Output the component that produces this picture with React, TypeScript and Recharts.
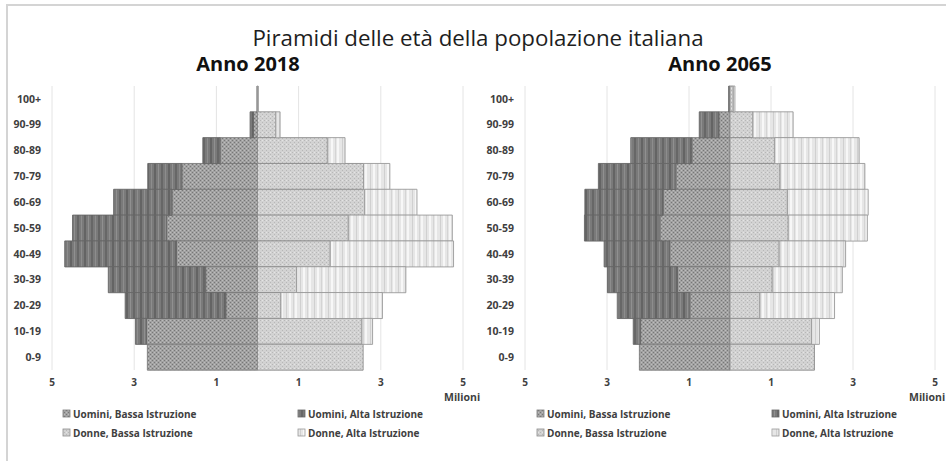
import { Bar, BarChart, CartesianGrid, XAxis, YAxis } from "recharts";

// age classes, top to bottom
const ageGroups = ["100+", "90-99", "80-89", "70-79", "60-69", "50-59", "40-49", "30-39", "20-29", "10-19", "0-9"];

// millions of people, 2018
const menLow2018 = [0.005, 0.1, 0.91, 1.84, 2.08, 2.21, 1.97, 1.26, 0.77, 2.7, 2.68];
const menHigh2018 = [0.003, 0.08, 0.42, 0.83, 1.42, 2.29, 2.72, 2.37, 2.45, 0.27, 0];
const womenLow2018 = [0.01, 0.45, 1.7, 2.58, 2.61, 2.21, 1.77, 0.95, 0.57, 2.54, 2.57];
const womenHigh2018 = [0.005, 0.1, 0.43, 0.64, 1.27, 2.53, 3.0, 2.66, 2.47, 0.26, 0];

// millions of people, 2065
const menLow2065 = [0.02, 0.27, 0.93, 1.32, 1.63, 1.71, 1.47, 1.28, 0.98, 2.18, 2.21];
const menHigh2065 = [0.01, 0.48, 1.49, 1.89, 1.91, 1.84, 1.6, 1.71, 1.77, 0.18, 0];
const womenLow2065 = [0.08, 0.56, 1.09, 1.22, 1.4, 1.42, 1.2, 1.03, 0.73, 1.99, 2.06];
const womenHigh2065 = [0.04, 0.98, 2.06, 2.07, 1.97, 1.93, 1.62, 1.71, 1.82, 0.19, 0];

const seriesKeys = ["menLow", "menHigh", "womenLow", "womenHigh"];
const seriesNames = [
  "Uomini, Bassa Istruzione",
  "Uomini, Alta Istruzione",
  "Donne, Bassa Istruzione",
  "Donne, Alta Istruzione",
];
const xTicks = [-5, -3, -1, 1, 3, 5];

const FONT = "'Open Sans', 'Noto Sans', sans-serif";
const strokes: Record<string, string> = {
  menLow: "#7a7a7a",
  menHigh: "#666666",
  womenLow: "#8c8c8c",
  womenHigh: "#9a9a9a",
};

function buildRows(menLow: number[], menHigh: number[], womenLow: number[], womenHigh: number[]) {
  return ageGroups.map((age, i) => ({
    age,
    menLow: -menLow[i],
    menHigh: -menHigh[i],
    womenLow: womenLow[i],
    womenHigh: womenHigh[i],
  }));
}

const rows2018 = buildRows(menLow2018, menHigh2018, womenLow2018, womenHigh2018);
const rows2065 = buildRows(menLow2065, menHigh2065, womenLow2065, womenHigh2065);

function patternDefs(prefix: string) {
  return (
    <defs>
      <pattern id={`${prefix}-menLow`} width={4} height={4} patternUnits="userSpaceOnUse">
        <rect width={4} height={4} fill="#a2a2a2" />
        <rect x={0} y={0} width={1} height={1} fill="#777777" />
        <rect x={2} y={2} width={1} height={1} fill="#777777" />
        <rect x={2} y={0} width={1} height={1} fill="#bdbdbd" />
        <rect x={0} y={2} width={1} height={1} fill="#bdbdbd" />
      </pattern>
      <pattern id={`${prefix}-womenLow`} width={4} height={4} patternUnits="userSpaceOnUse">
        <rect width={4} height={4} fill="#d2d2d2" />
        <rect x={0} y={0} width={1} height={1} fill="#b7b7b7" />
        <rect x={2} y={2} width={1} height={1} fill="#b7b7b7" />
        <rect x={2} y={0} width={1} height={1} fill="#e4e4e4" />
      </pattern>
      <pattern id={`${prefix}-menHigh`} width={14} height={4} patternUnits="userSpaceOnUse">
        <rect width={14} height={4} fill="#7a7a7a" />
        <rect x={0} width={2} height={4} fill="#646464" />
        <rect x={4} width={1} height={4} fill="#909090" />
        <rect x={7} width={2} height={4} fill="#676767" />
        <rect x={11} width={1} height={4} fill="#8d8d8d" />
      </pattern>
      <pattern id={`${prefix}-womenHigh`} width={14} height={4} patternUnits="userSpaceOnUse">
        <rect width={14} height={4} fill="#e6e6e6" />
        <rect x={1} width={2} height={4} fill="#f6f6f6" />
        <rect x={6} width={1} height={4} fill="#d0d0d0" />
        <rect x={9} width={2} height={4} fill="#f7f7f7" />
        <rect x={13} width={1} height={4} fill="#d4d4d4" />
      </pattern>
    </defs>
  );
}

type PyramidProps = {
  rows: ReturnType<typeof buildRows>;
  prefix: string;
  width: number;
  right: number;
};

function Pyramid({ rows, prefix, width, right }: PyramidProps) {
  return (
    <BarChart
      layout="vertical"
      width={width}
      height={400}
      data={rows}
      margin={{ top: 86, right, bottom: 0, left: 0 }}
      barCategoryGap={0}
      stackOffset="sign"
    >
      {patternDefs(prefix)}
      <CartesianGrid horizontal={false} stroke="#e4e4e4" />
      <XAxis
        type="number"
        domain={[-5, 5]}
        ticks={xTicks}
        tickFormatter={(v: number) => String(Math.abs(v))}
        axisLine={false}
        tickLine={false}
        tickMargin={3}
        height={30}
        tick={{ fontSize: 10, fontWeight: 700, fill: "#404040", fontFamily: FONT }}
      />
      <YAxis
        type="category"
        dataKey="age"
        width={52}
        axisLine={false}
        tickLine={false}
        tickMargin={5}
        tick={{ fontSize: 10.5, fontWeight: 700, fill: "#404040", fontFamily: FONT }}
      />
      {seriesKeys.map((key, i) => (
        <Bar
          key={key}
          dataKey={key}
          name={seriesNames[i]}
          stackId="pyr"
          fill={`url(#${prefix}-${key})`}
          stroke={strokes[key]}
          strokeWidth={0.9}
          isAnimationActive={false}
        />
      ))}
    </BarChart>
  );
}

function Legend({ x1, x2, prefix }: { x1: number; x2: number; prefix: string }) {
  const slots = [
    { x: x1, y: 414 },
    { x: x2, y: 414 },
    { x: x1, y: 433 },
    { x: x2, y: 433 },
  ];
  return (
    <g>
      {seriesKeys.map((key, i) => (
        <g key={key}>
          <rect
            x={slots[i].x}
            y={slots[i].y - 4}
            width={7}
            height={7}
            fill={`url(#${prefix}-${key})`}
            stroke={strokes[key]}
            strokeWidth={0.8}
          />
          <text
            x={slots[i].x + 10}
            y={slots[i].y + 4}
            fontSize={10}
            fontWeight={700}
            fill="#404040"
            fontFamily={FONT}
          >
            {seriesNames[i]}
          </text>
        </g>
      ))}
    </g>
  );
}

export default function App() {
  return (
    <div style={{ position: "absolute", left: 0, top: 0, width: 946, height: 461, background: "#fff", overflow: "hidden" }}>
      <div style={{ position: "absolute", left: 0, top: 0 }}>
        <Pyramid rows={rows2018} prefix="a" width={480} right={17} />
      </div>
      <div style={{ position: "absolute", left: 473, top: 0 }}>
        <Pyramid rows={rows2065} prefix="b" width={473} right={11} />
      </div>
      <svg
        width={946}
        height={461}
        style={{ position: "absolute", left: 0, top: 0, pointerEvents: "none" }}
      >
        {patternDefs("g")}
        <line x1={6} y1={5} x2={946} y2={5} stroke="#d4d4d4" strokeWidth={2} />
        <line x1={7} y1={5} x2={7} y2={461} stroke="#d4d4d4" strokeWidth={2} />
        <text x={478} y={46} textAnchor="middle" fontSize={22.3} fill="#1e1e1e" fontFamily={FONT}>
          Piramidi delle età della popolazione italiana
        </text>
        <text x={248} y={71} textAnchor="middle" fontSize={20} fontWeight={700} fill="#111" fontFamily={FONT}>
          Anno 2018
        </text>
        <text x={720} y={71} textAnchor="middle" fontSize={20} fontWeight={700} fill="#111" fontFamily={FONT}>
          Anno 2065
        </text>
        <text x={444} y={401} fontSize={10.5} fontWeight={700} fill="#404040" fontFamily={FONT}>
          Milioni
        </text>
        <text x={909} y={401} fontSize={10.5} fontWeight={700} fill="#404040" fontFamily={FONT}>
          Milioni
        </text>
        <Legend x1={63} x2={298} prefix="g" />
        <Legend x1={537} x2={772} prefix="g" />
      </svg>
    </div>
  );
}
